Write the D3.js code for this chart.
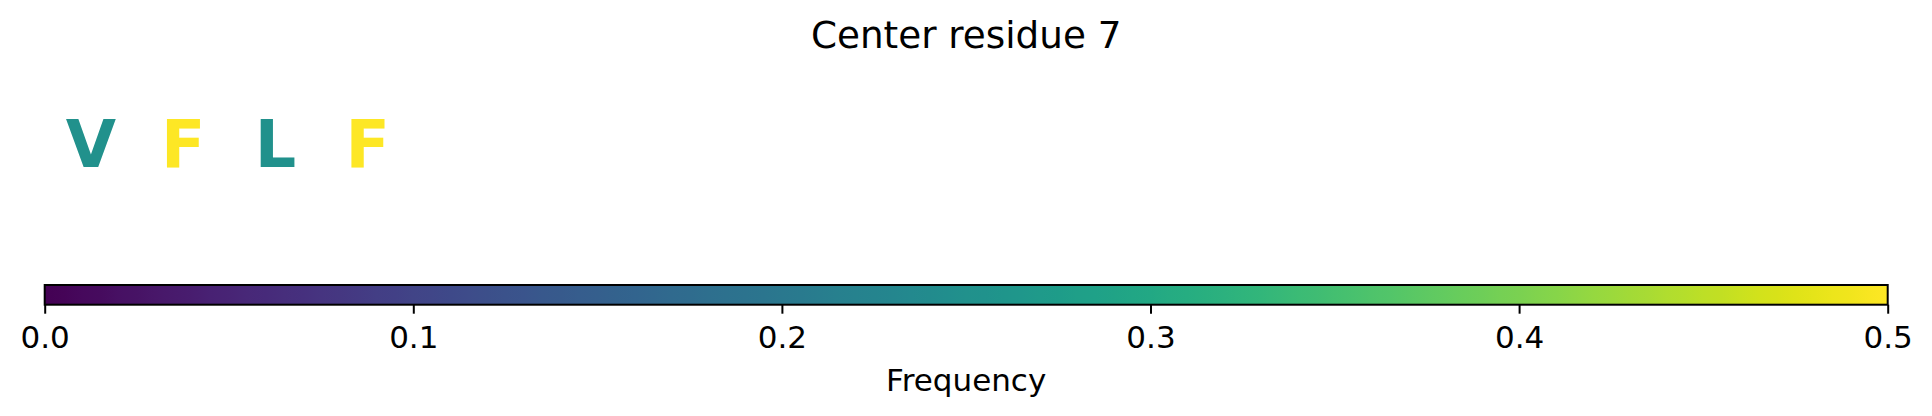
<!DOCTYPE html>
<html>
<head>
<meta charset="utf-8">
<script src="https://cdn.jsdelivr.net/npm/d3@7"></script>
<style>
  html, body { margin: 0; padding: 0; background: #fff; }
  svg { display: block; font-family: "DejaVu Sans", sans-serif; }
</style>
</head>
<body>
<svg id="chart" width="1932" height="416"></svg>
<script>
// ---- data ----
const title = "Center residue 7";
const residues = ["V", "F", "L", "F"];
const frequencies = [0.25, 0.5, 0.25, 0.5];
const positions = [0, 1, 2, 3];
const colorDomain = [0, 0.5];
const tickValues = [0.0, 0.1, 0.2, 0.3, 0.4, 0.5];
const axisLabel = "Frequency";

const W = 1932, H = 416;
const svg = d3.select("#chart");

const barLeft = 44.7, barRight = 1887.7, barTop = 285, barBottom = 304.7;

// title
svg.append("text")
  .attr("x", (barLeft + barRight) / 2)
  .attr("y", 48.3)
  .attr("text-anchor", "middle")
  .attr("font-size", 37.3)
  .attr("fill", "#000")
  .text(title);

// residue letters
const color = d3.scaleSequential(d3.interpolateViridis).domain(colorDomain);
const xPos = d3.scaleLinear().domain([0, 1]).range([91, 183.2]);

svg.append("g").selectAll("text")
  .data(residues.map((r, i) => ({ r, f: frequencies[i], p: positions[i] })))
  .join("text")
  .attr("x", d => xPos(d.p))
  .attr("y", 166.7)
  .attr("text-anchor", "middle")
  .attr("font-size", 65)
  .attr("font-weight", "bold")
  .attr("fill", d => color(d.f))
  .text(d => d.r);

// colorbar gradient
const defs = svg.append("defs");
const grad = defs.append("linearGradient")
  .attr("id", "viridisGrad")
  .attr("x1", "0%").attr("x2", "100%").attr("y1", "0%").attr("y2", "0%");
d3.range(0, 1.0001, 0.01).forEach(t => {
  grad.append("stop")
    .attr("offset", (t * 100) + "%")
    .attr("stop-color", d3.interpolateViridis(t));
});

const cx = d3.scaleLinear().domain(colorDomain).range([barLeft, barRight]);

svg.append("rect")
  .attr("x", barLeft).attr("y", barTop)
  .attr("width", barRight - barLeft).attr("height", barBottom - barTop)
  .attr("fill", "url(#viridisGrad)")
  .attr("stroke", "#000")
  .attr("stroke-width", 2);

// axis
const axis = d3.axisBottom(cx)
  .tickValues(tickValues)
  .tickFormat(d3.format(".1f"))
  .tickSize(9)
  .tickPadding(10);

const ag = svg.append("g")
  .attr("transform", `translate(0,${barBottom})`)
  .call(axis);
ag.select(".domain").remove();
ag.selectAll(".tick line").attr("stroke", "#000").attr("stroke-width", 2);
ag.selectAll(".tick text")
  .attr("font-family", "DejaVu Sans, sans-serif")
  .attr("font-size", 31)
  .attr("fill", "#000")
  .attr("dy", null)
  .attr("y", 348.3 - barBottom);

svg.append("text")
  .attr("x", (barLeft + barRight) / 2)
  .attr("y", 391)
  .attr("text-anchor", "middle")
  .attr("font-size", 31)
  .attr("fill", "#000")
  .text(axisLabel);
</script>
</body>
</html>
